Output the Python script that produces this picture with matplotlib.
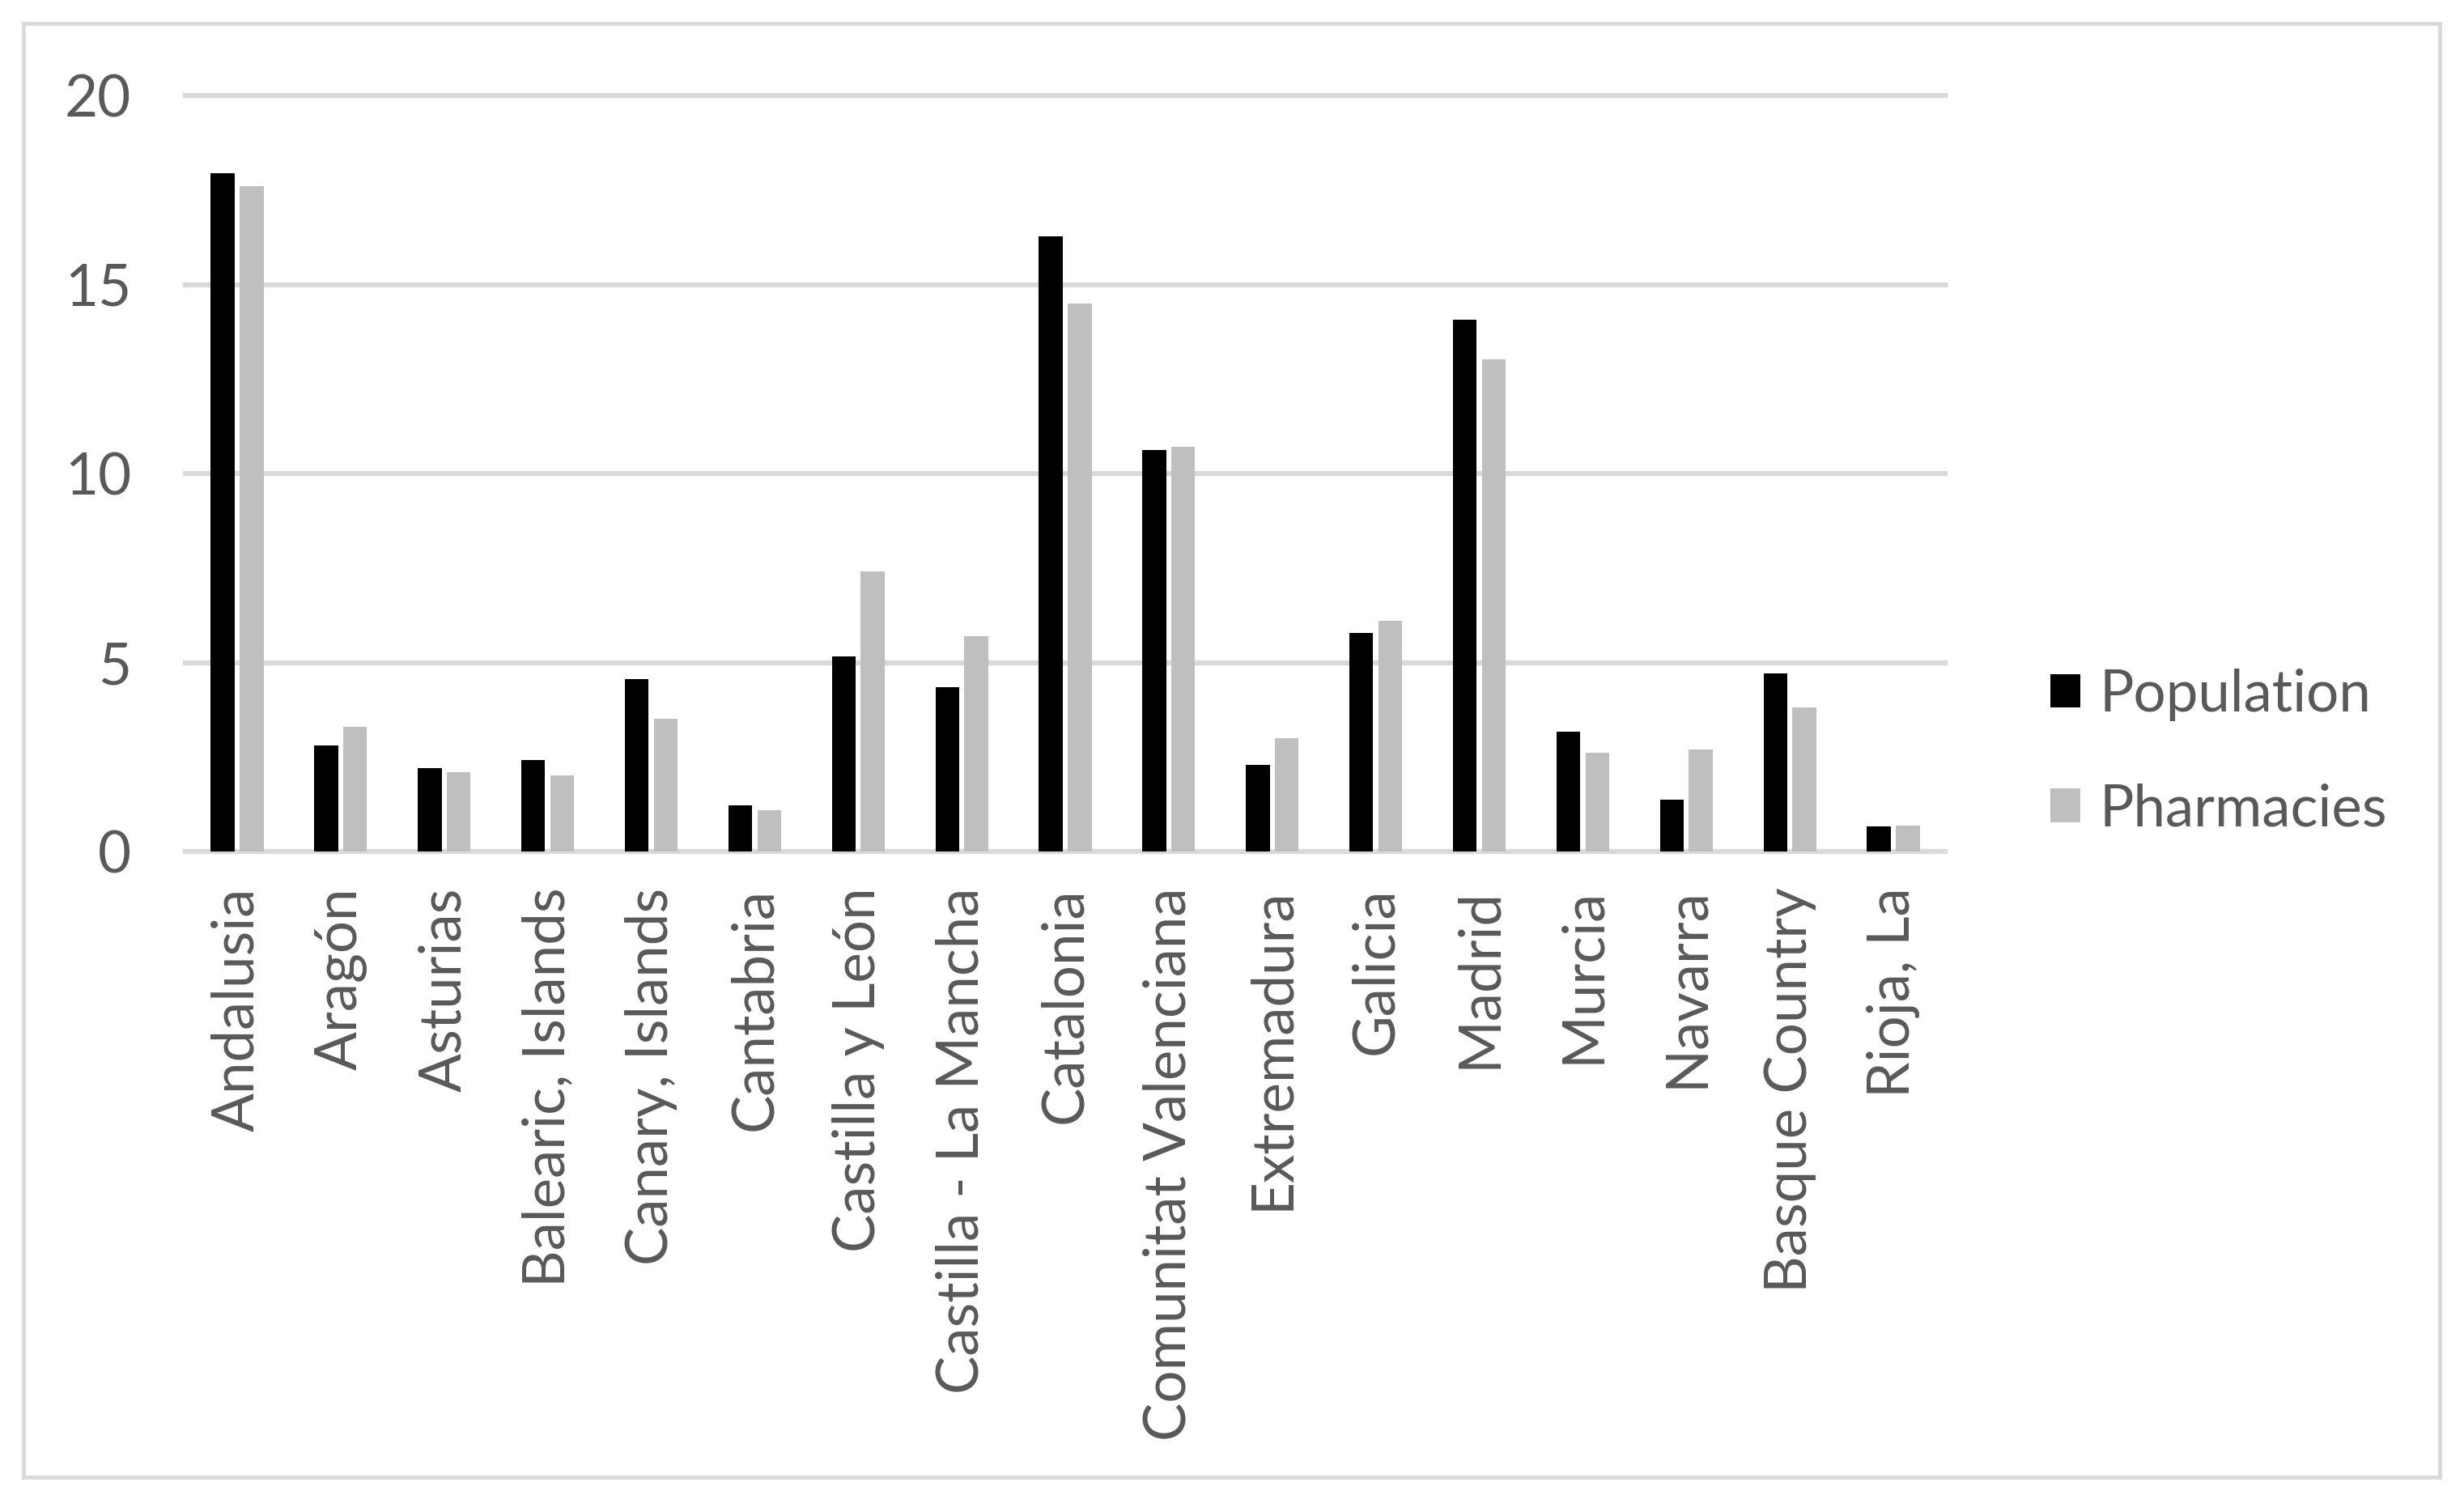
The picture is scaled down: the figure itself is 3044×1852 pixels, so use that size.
import matplotlib
matplotlib.use("Agg")
import matplotlib.pyplot as plt
from matplotlib.patches import Patch, Rectangle
import numpy as np

regions = ["Andalusia", "Aragón", "Asturias", "Balearic, Islands", "Canary, Islands",
           "Cantabria", "Castilla y León", "Castilla - La Mancha", "Catalonia",
           "Comunitat Valenciana", "Extremadura", "Galicia", "Madrid", "Murcia",
           "Navarra", "Basque Country", "Rioja, La"]
population = [17.95, 2.80, 2.20, 2.42, 4.56, 1.22, 5.16, 4.34, 16.28,
              10.63, 2.30, 5.78, 14.07, 3.17, 1.37, 4.71, 0.67]
pharmacies = [17.61, 3.29, 2.10, 2.01, 3.51, 1.09, 7.40, 5.70, 14.49,
              10.71, 2.99, 6.11, 13.01, 2.61, 2.69, 3.81, 0.68]
yticks = [0, 5, 10, 15, 20]
series_names = ["Population", "Pharmacies"]

W, H = 3044, 1852
DPI = 100
plt.rcParams['font.family'] = ['Lato', 'DejaVu Sans']
TXT = '#595959'
GRID = '#d9d9d9'
FS = 51

fig = plt.figure(figsize=(W / DPI, H / DPI), dpi=DPI)
fig.patch.set_facecolor('white')

# outer border
fig.patches.append(Rectangle((29 / W, 1 - 1825 / H), (3014 - 29) / W, (1825 - 29) / H,
                             transform=fig.transFigure, fill=False,
                             edgecolor=GRID, linewidth=3.6))

left, right = 229 / W, 2403 / W
top, bottom = 1 - 118 / H, 1 - 1052 / H
ax = fig.add_axes([left, bottom, right - left, top - bottom])

x = np.arange(len(regions))
bw = 0.23
off = 0.14
ax.bar(x - off, population, width=bw, color='#000000', zorder=3, label=series_names[0])
ax.bar(x + off, pharmacies, width=bw, color='#bfbfbf', zorder=3, label=series_names[1])

ax.set_xlim(-0.5, len(regions) - 0.5)
ax.set_ylim(0, 20)
ax.set_yticks(yticks)
ax.set_yticklabels([str(v) for v in yticks])
ax.set_xticks(x)
ax.set_xticklabels(regions, rotation=90)

for s in ax.spines.values():
    s.set_visible(False)
ax.yaxis.grid(True, color=GRID, linewidth=4.5, zorder=0)
ax.set_axisbelow(True)
for gl in ax.get_ygridlines():
    gl.set_clip_on(False)
ax.tick_params(axis='both', length=0, labelsize=FS, labelcolor=TXT)
ax.tick_params(axis='y', pad=48)
ax.tick_params(axis='x', pad=32)

handles = [Patch(facecolor='#000000'), Patch(facecolor='#bfbfbf')]
fig.legend(handles, series_names, loc='center left',
           bbox_to_anchor=(2533 / W, 1 - 929 / H), frameon=False,
           fontsize=FS, labelcolor=TXT, handlelength=0.52, handleheight=0.52,
           handletextpad=0.33, labelspacing=1.08, borderpad=0, borderaxespad=0)

fig.savefig('out.png', dpi=DPI)
